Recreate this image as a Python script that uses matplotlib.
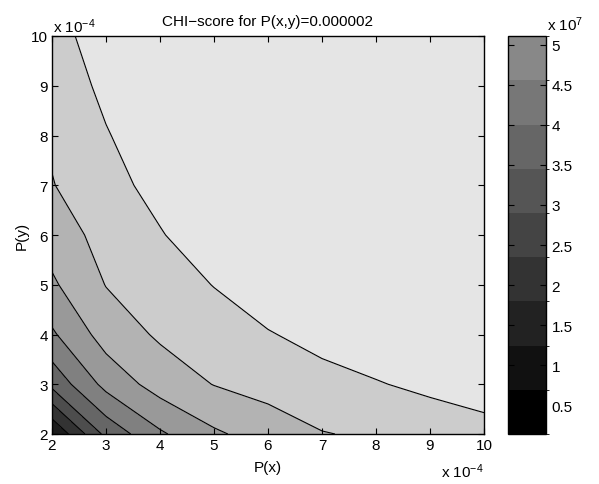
import numpy as np
import matplotlib
matplotlib.use('Agg')
import matplotlib.pyplot as plt
from matplotlib.colors import ListedColormap, BoundaryNorm
from matplotlib.cm import ScalarMappable

plt.rcParams['font.family'] = ['Liberation Sans', 'DejaVu Sans']
plt.rcParams['mathtext.default'] = 'regular'

# grid of P(x), P(y) values (units of 1e-4)
p_x = [2, 3, 4, 5, 6, 7, 8, 9, 10]
p_y = [2, 3, 4, 5, 6, 7, 8, 9, 10]

# CHI-score (units of 1e7), rows = P(y), cols = P(x)
chi = [
    [0.14, 1.95, 2.82, 3.37, 3.69, 3.98, 4.08, 4.21, 4.32],
    [1.95, 3.07, 3.69, 4.02, 4.21, 4.37, 4.52, 4.68, 4.87],
    [2.82, 3.69, 4.08, 4.32, 4.52, 4.73, 4.89, 4.93, 4.95],
    [3.37, 4.02, 4.32, 4.57, 4.87, 4.92, 4.95, 4.99, 5.01],
    [3.69, 4.21, 4.52, 4.87, 4.93, 4.97, 5.00, 5.03, 5.04],
    [3.98, 4.37, 4.73, 4.92, 4.97, 5.00, 5.03, 5.05, 5.07],
    [4.08, 4.52, 4.89, 4.95, 5.00, 5.03, 5.05, 5.08, 5.09],
    [4.21, 4.68, 4.93, 4.99, 5.03, 5.05, 5.08, 5.09, 5.10],
    [4.32, 4.87, 4.95, 5.01, 5.04, 5.07, 5.09, 5.10, 5.11],
]

# contour levels (units of 1e7)
chi_levels = [0.692, 1.244, 1.796, 2.348, 2.900, 3.452, 4.004, 4.556]
chi_min, chi_max = 0.14, 5.11

band_colors = ['#1c1c1c', '#333333', '#4d4d4d', '#666666', '#808080',
               '#999999', '#b3b3b3', '#cccccc', '#e5e5e5']
cbar_colors = ['#000000', '#111111', '#222222', '#333333', '#444444',
               '#555555', '#666666', '#777777', '#888888']

axis_ticks = [2, 3, 4, 5, 6, 7, 8, 9, 10]
cbar_ticks = [0.5, 1, 1.5, 2, 2.5, 3, 3.5, 4, 4.5, 5]
cbar_ticklabels = ['0.5', '1', '1.5', '2', '2.5', '3', '3.5', '4', '4.5', '5']

W, H = 599, 485
fig = plt.figure(figsize=(W / 100, H / 100), dpi=100)


def rect(l, t, r, b):
    return [l / W, 1 - b / H, (r - l) / W, (b - t) / H]


ax = fig.add_axes(rect(52, 37, 484, 435))
cax = fig.add_axes(rect(508, 37, 546, 435))

X, Y = np.meshgrid(p_x, p_y)
Z = np.array(chi)
fill_levels = [chi_min] + chi_levels + [chi_max + 0.1]
ax.contourf(X, Y, Z, levels=fill_levels, colors=band_colors)
ax.contour(X, Y, Z, levels=chi_levels, colors='k', linewidths=0.8)

ax.set_xlim(2, 10)
ax.set_ylim(2, 10)
ax.set_xticks(axis_ticks)
ax.set_yticks(axis_ticks)
ax.set_xticklabels([str(t) for t in axis_ticks])
ax.set_yticklabels([str(t) for t in axis_ticks])
ax.tick_params(direction='in', top=True, right=True, length=4, width=0.8,
               labelsize=11, pad=3)
for s in ax.spines.values():
    s.set_linewidth(1.0)

ax.set_title('CHI\u2212score for P(x,y)=0.000002', fontsize=11, pad=8)

fig.text(268 / W, 1 - 472 / H, 'P(x)', fontsize=11, ha='center', va='baseline')
fig.text(22 / W, 1 - 236 / H, 'P(y)', fontsize=11, ha='center', va='center',
         rotation=90)
fig.text(53 / W, 1 - 33 / H, 'x 10$^{-4}$', fontsize=11, ha='left', va='baseline')
fig.text(484 / W, 1 - 478 / H, 'x 10$^{-4}$', fontsize=11, ha='right', va='baseline')
fig.text(547 / W, 1 - 31 / H, 'x 10$^{7}$', fontsize=11, ha='left', va='baseline')

band_edges = [chi_min] + chi_levels + [chi_max]
sm = ScalarMappable(norm=BoundaryNorm(band_edges, len(cbar_colors)),
                    cmap=ListedColormap(cbar_colors))
cb = fig.colorbar(sm, cax=cax, ticks=cbar_ticks, spacing='proportional')
cb.set_ticklabels(cbar_ticklabels)
cax.tick_params(direction='in', left=True, right=True, length=4, width=0.8,
                labelsize=11, pad=4)
cb.outline.set_linewidth(1.0)

fig.savefig('out.png', dpi=100)
